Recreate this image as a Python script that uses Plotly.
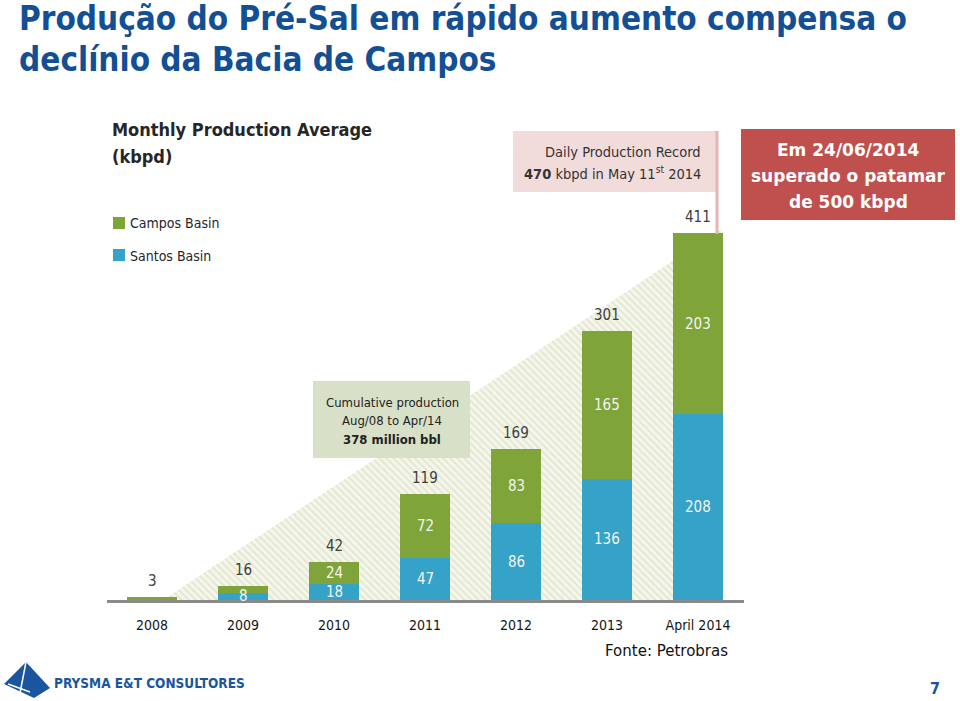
import plotly.graph_objects as go

# ---- data ----
categories = ["2008", "2009", "2010", "2011", "2012", "2013", "April 2014"]
santos = [0, 8, 18, 47, 86, 136, 208]
campos = [3, 8, 24, 72, 83, 165, 203]
santos_show = [False, True, True, True, True, True, True]
campos_show = [False, False, True, True, True, True, True]
totals = [s + c for s, c in zip(santos, campos)]
positions = list(range(len(categories)))

W, H = 960, 701
def px(x):
    return x / W
def py(y):
    return 1 - y / H

GREEN = "#7fa43a"
BLUE = "#35a2c7"
TITLE_BLUE = "#124f94"
NARROW = "DejaVu Sans Condensed, Liberation Sans Narrow, sans-serif"

# plot area in pixels
X0, X1 = 106.5, 743.5
Y_TOP, Y_BASE = 150, 600
PX_PER_UNIT = 0.893
YMAX = (Y_BASE - Y_TOP) / PX_PER_UNIT
SLOT = (X1 - X0) / len(categories)
XRANGE = [-0.5, len(categories) - 0.5]
def xi(pixel):
    return (pixel - X0) / SLOT - 0.5
def yv(pixel):
    return (Y_BASE - pixel) / PX_PER_UNIT

fig = go.Figure()

# decorative hatched triangle, on the base axes (drawn beneath the overlaid bar axes)
fig.add_trace(go.Scatter(
    x=[xi(163), xi(722), xi(722)],
    y=[0, yv(228), 0],
    mode="lines", fill="toself", line=dict(width=0),
    fillcolor="rgba(0,0,0,0)",
    fillpattern=dict(shape="\\", fgcolor="#cfd8b6", bgcolor="#f5f6ec", size=5, solidity=0.4),
    hoverinfo="skip", showlegend=False, xaxis="x", yaxis="y"))

fig.add_trace(go.Bar(x=positions, y=santos, name="Santos Basin", marker=dict(color=BLUE, line=dict(width=0)),
                     width=0.55, showlegend=False, xaxis="x2", yaxis="y2"))
fig.add_trace(go.Bar(x=positions, y=campos, name="Campos Basin", marker=dict(color=GREEN, line=dict(width=0)),
                     width=0.55, showlegend=False, xaxis="x2", yaxis="y2"))

annotations = []
seg_font = dict(family=NARROW, size=15, color="#f4f4f0")
for i in positions:
    if santos_show[i]:
        annotations.append(dict(x=i, y=santos[i] / 2, xref="x2", yref="y2", text=str(santos[i]),
                                showarrow=False, font=seg_font))
    if campos_show[i]:
        annotations.append(dict(x=i, y=santos[i] + campos[i] / 2, xref="x2", yref="y2", text=str(campos[i]),
                                showarrow=False, font=seg_font))
    annotations.append(dict(x=i, y=totals[i], xref="x2", yref="y2", text=str(totals[i]),
                            showarrow=False, yanchor="bottom", yshift=5,
                            font=dict(family=NARROW, size=15, color="#404040")))

def txt(x, y, text, size, color, family=NARROW, xanchor="left", align="left", yanchor="middle"):
    annotations.append(dict(x=px(x), y=py(y), xref="paper", yref="paper", xanchor=xanchor, yanchor=yanchor,
                            align=align, showarrow=False, text=text,
                            font=dict(family=family, size=size, color=color)))

# title
txt(17, 19, "<b>Produção do Pré-Sal em rápido aumento compensa o</b>", 33, TITLE_BLUE)
txt(17, 60, "<b>declínio da Bacia de Campos</b>", 33, TITLE_BLUE)
# chart title
txt(110, 130, "<b>Monthly Production Average</b>", 18, "#262626")
txt(110, 157, "<b>(kbpd)</b>", 18, "#262626")
# legend (manual)
txt(128, 223, "Campos Basin", 14, "#262626")
txt(128, 256, "Santos Basin", 14, "#262626")
# daily record box text
txt(703, 152, "Daily Production Record", 14.5, "#333333", xanchor="right", align="right")
txt(703, 173, "<b>470</b> kbpd in May 11<sup>st</sup> 2014", 14.5, "#333333", xanchor="right", align="right")
# red box text
for yy, line in zip([150, 176, 202], ["Em 24/06/2014", "superado o patamar", "de 500 kbpd"]):
    txt(848, yy, f"<b>{line}</b>", 17, "#ffffff", family="DejaVu Sans", xanchor="center", align="center")
# cumulative box text
for yy, line in zip([402, 420, 439], ["Cumulative production", "Aug/08 to Apr/14", "<b>378 million bbl</b>"]):
    txt(392, yy, line, 13, "#222222", xanchor="center", align="center")
# source
txt(666, 651, "Fonte: Petrobras", 15, "#111111", family="DejaVu Sans", xanchor="center", align="center")
# logo text
txt(52, 683, "<b>PRYSMA E&amp;T CONSULTORES</b>", 13.5, "#1b55a0")
# page number
txt(935, 688, "<b>7</b>", 16, "#1b55a0", xanchor="center", align="center")

shapes = [
    # legend swatches
    dict(type="rect", xref="paper", yref="paper", x0=px(113), x1=px(125), y0=py(217), y1=py(229),
         fillcolor=GREEN, line=dict(width=0)),
    dict(type="rect", xref="paper", yref="paper", x0=px(113), x1=px(125), y0=py(249), y1=py(261),
         fillcolor=BLUE, line=dict(width=0)),
    # daily record box
    dict(type="rect", xref="paper", yref="paper", x0=px(513), x1=px(716), y0=py(131), y1=py(192),
         fillcolor="#f2dcdb", line=dict(width=0), layer="below"),
    # pink leader line
    dict(type="line", xref="paper", yref="paper", x0=px(717), x1=px(717), y0=py(131), y1=py(234),
         line=dict(color="#e4b5b4", width=3)),
    # red box
    dict(type="rect", xref="paper", yref="paper", x0=px(741), x1=px(955), y0=py(129), y1=py(220),
         fillcolor="#c0504d", line=dict(width=0)),
    # cumulative box
    dict(type="rect", xref="paper", yref="paper", x0=px(313), x1=px(470), y0=py(381), y1=py(458),
         fillcolor="#d8e1c7", line=dict(width=0)),
    # logo pyramid
    dict(type="path", xref="paper", yref="paper",
         path=f"M {px(26)} {py(662)} L {px(4)} {py(684)} L {px(34)} {py(698)} L {px(50)} {py(688)} Z",
         fillcolor="#1b55a0", line=dict(width=0)),
    dict(type="line", xref="paper", yref="paper", x0=px(26), y0=py(662), x1=px(20), y1=py(693),
         line=dict(color="white", width=1.5)),
    dict(type="line", xref="paper", yref="paper", x0=px(8), y0=py(684), x1=px(30), y1=py(692),
         line=dict(color="white", width=1.5)),
]

fig.update_layout(
    width=W, height=H,
    margin=dict(l=0, r=0, t=0, b=0),
    paper_bgcolor="white", plot_bgcolor="rgba(0,0,0,0)",
    barmode="stack",
    showlegend=False,
    xaxis=dict(domain=[px(X0), px(X1)], range=XRANGE, visible=False, showgrid=False, zeroline=False),
    yaxis=dict(domain=[py(Y_BASE), py(Y_TOP)], range=[0, YMAX], visible=False, showgrid=False, zeroline=False),
    xaxis2=dict(overlaying="x", anchor="y2", range=XRANGE,
                tickmode="array", tickvals=positions, ticktext=categories,
                showgrid=False, zeroline=False, showline=True, linecolor="#8a8a8a", linewidth=3,
                ticks="", tickfont=dict(family=NARROW, size=14, color="#151515"), ticklabelstandoff=10),
    yaxis2=dict(overlaying="y", anchor="x2", range=[0, YMAX], visible=False, showgrid=False, zeroline=False),
    annotations=annotations,
    shapes=shapes,
)

fig.write_html("out.html", config={"displayModeBar": False},
               post_script="document.body.style.margin='0';")
